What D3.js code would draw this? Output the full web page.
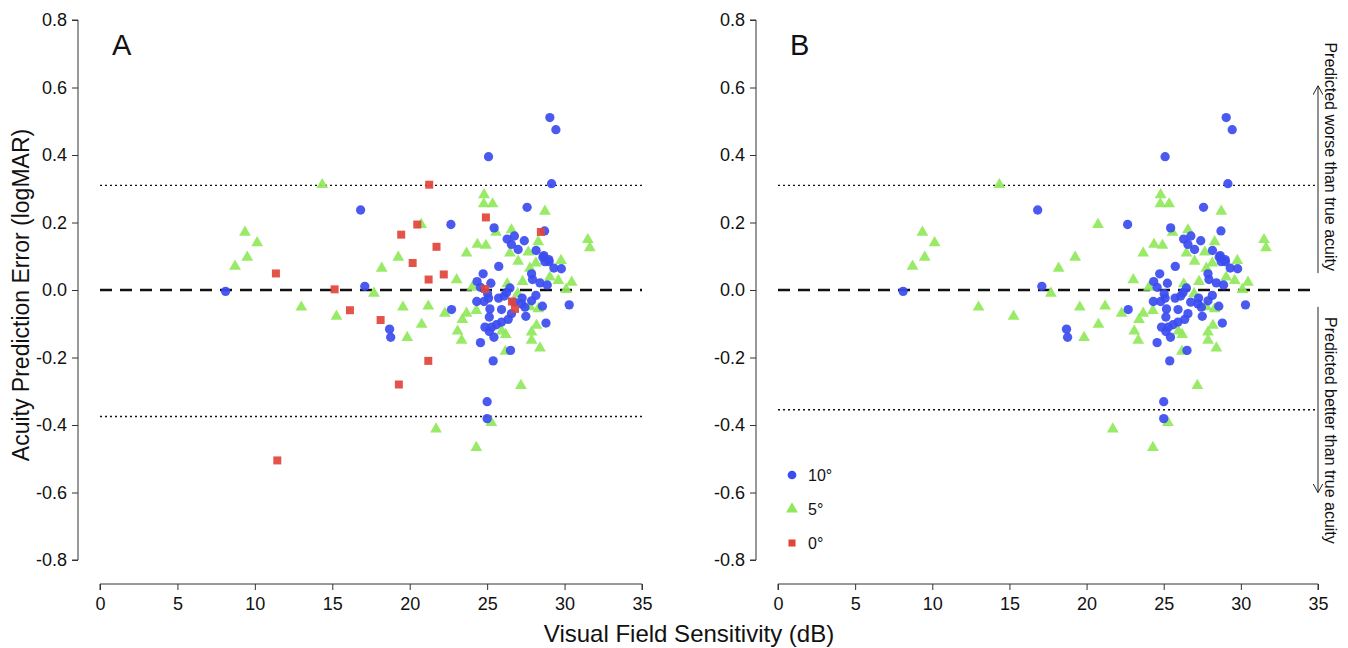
<!DOCTYPE html>
<html><head><meta charset="utf-8">
<script src="https://cdn.jsdelivr.net/npm/d3@7"></script>
<style>body{margin:0;background:#fff;}svg{display:block;font-family:"Liberation Sans",Arial,sans-serif;}</style>
</head><body>
<svg id="c" width="1348" height="648"></svg>
<script>
// Data (visual field sensitivity dB, prediction error logMAR)
const blue10 = [
[8.11,-0.004],[16.83,0.237],[17.1,0.011],[18.7,-0.116],[18.77,-0.14],
[29.05,0.511],[29.44,0.475],[25.09,0.395],[29.16,0.315],[27.58,0.245],[22.66,0.194],
[25.45,0.184],[26.76,0.16],[26.29,0.151],[28.71,0.175],[27.4,0.146],[26.57,0.135],
[27.0,0.12],[28.16,0.117],[28.66,0.102],[28.98,0.09],[28.6,0.097],[28.73,0.084],
[29.0,0.084],[29.31,0.065],[29.79,0.063],[25.75,0.07],[24.74,0.048],[24.35,0.025],
[24.57,0.008],[27.87,0.048],[27.93,0.031],[28.41,0.021],[28.88,0.015],[26.47,0.006],
[26.25,-0.008],[26.1,-0.018],[25.74,-0.024],[25.03,-0.011],[25.09,-0.024],[25.24,0.02],
[24.33,-0.034],[24.8,-0.034],[27.26,-0.024],[28.15,-0.016],[27.87,-0.032],[27.22,-0.041],
[27.44,-0.051],[26.75,-0.036],[28.57,-0.048],[30.3,-0.044],[22.7,-0.058],[25.18,-0.056],
[25.93,-0.058],[26.57,-0.07],[25.14,-0.08],[27.5,-0.078],[26.36,-0.087],[25.93,-0.095],
[28.8,-0.098],[25.6,-0.103],[24.86,-0.11],[25.29,-0.11],[25.14,-0.123],[25.44,-0.14],
[24.57,-0.156],[26.51,-0.179],[25.39,-0.21],[25.0,-0.331],[25.0,-0.381]
];
const green5 = [
[8.72,0.07],[9.36,0.171],[9.51,0.097],[10.15,0.14],[13.0,-0.051],[14.35,0.312],
[15.27,-0.078],[17.69,-0.01],[18.19,0.064],[19.26,0.097],[19.56,-0.051],[19.84,-0.141],
[20.74,0.194],[20.77,-0.102],[21.2,-0.048],[21.7,-0.412],[22.27,-0.069],[23.03,0.03],
[23.09,-0.122],[23.35,-0.149],[23.4,-0.088],[23.67,0.109],[23.67,-0.069],[24.04,0.008],
[24.3,-0.061],[24.3,-0.467],[24.37,0.135],[24.78,0.255],[24.8,0.282],[24.92,0.132],
[25.27,-0.393],[25.35,0.255],[25.57,0.171],[25.95,-0.122],[26.2,-0.132],[26.18,-0.182],
[26.3,0.018],[26.47,0.109],[26.57,0.178],[26.97,-0.011],[27.0,0.085],[27.18,-0.283],
[27.29,0.025],[27.66,0.112],[27.76,0.064],[27.87,-0.125],[27.87,-0.149],[28.19,-0.105],
[28.3,0.143],[28.3,-0.056],[28.41,-0.172],[28.73,0.233],[29.05,0.038],[29.6,0.028],
[29.77,0.087],[30.1,0.001],[30.46,0.023],[31.5,0.149],[31.63,0.125],[27.76,-0.05],[28.15,0.08]
];
const red0 = [
[11.36,0.049],[11.45,-0.505],[15.15,0.002],[16.14,-0.06],[18.12,-0.089],[19.3,-0.28],
[19.45,0.164],[20.19,0.08],[20.49,0.194],[21.2,-0.21],[21.22,0.031],[21.26,0.312],
[21.73,0.128],[22.2,0.046],[24.86,0.003],[24.92,0.215],[26.6,-0.034],[26.8,-0.056],[28.47,0.172]
];
const xTicks = [0,5,10,15,20,25,30,35];
const yTicks = [-0.8,-0.6,-0.4,-0.2,0.0,0.2,0.4,0.6,0.8];
const limitsA = [0.31,-0.375];
const limitsB = [0.31,-0.355];
const legendItems = [["10°","circle"],["5°","triangle"],["0°","square"]];

const colors = {circle:"#3b4cf0", triangle:"#8fe85a", square:"#e2443a"};
const svg = d3.select("#c");
const fmt = d => d.toFixed(1);

function panel(x0, x1, yAxisX, label, limits, series, showLegend){
  const x = d3.scaleLinear().domain([0,35]).range([x0,x1]);
  const y = d3.scaleLinear().domain([-0.8,0.8]).range([560,20]);
  const g = svg.append("g");
  const ya = g.append("g").attr("transform",`translate(${yAxisX},0)`)
    .call(d3.axisLeft(y).tickValues(yTicks).tickFormat(fmt).tickSize(6).tickPadding(5));
  ya.select(".domain").attr("d",`M-6,${y(0.8)}H0V${y(-0.8)}H-6`);
  const xa = g.append("g").attr("transform",`translate(0,584)`)
    .call(d3.axisBottom(x).tickValues(xTicks).tickSize(6).tickPadding(5));
  xa.select(".domain").attr("d",`M${x(0)},6V0H${x(35)}V6`);
  [ya,xa].forEach(a=>{a.selectAll("text").attr("font-size",18).attr("fill","#111").attr("font-family","Liberation Sans, Arial, sans-serif");
    a.selectAll("line,path").attr("stroke","#333").attr("stroke-width",1);});
  xa.selectAll("text").attr("dy","0.85em");
  g.append("line").attr("x1",x(0)).attr("x2",x(35)).attr("y1",y(0)).attr("y2",y(0))
    .attr("stroke","#111").attr("stroke-width",2.5).attr("stroke-dasharray","12,8");
  limits.forEach(v=>g.append("line").attr("x1",x(0)).attr("x2",x(35)).attr("y1",y(v)).attr("y2",y(v))
    .attr("stroke","#111").attr("stroke-width",1.4).attr("stroke-dasharray","2,3"));
  series.forEach(([data,shape])=>{
    const sym = shape==="circle"?d3.symbolCircle:shape==="triangle"?d3.symbolTriangle:d3.symbolSquare;
    const size = shape==="circle"?68:shape==="triangle"?60:64;
    g.append("g").selectAll("path").data(data).join("path")
      .attr("d",d3.symbol(sym,size))
      .attr("transform",d=>`translate(${x(d[0])},${y(d[1])})`)
      .attr("fill",colors[shape]).attr("opacity",0.92);
  });
  g.append("text").attr("x",x0+12).attr("y",55).attr("font-size",29).attr("fill","#111").text(label);
  if(showLegend){
    legendItems.forEach(([t,shape],i)=>{
      const sym = shape==="circle"?d3.symbolCircle:shape==="triangle"?d3.symbolTriangle:d3.symbolSquare;
      const ly = 475 + i*34;
      g.append("path").attr("d",d3.symbol(sym,shape==="square"?50:60)).attr("transform",`translate(${x0+14},${ly})`).attr("fill",colors[shape]);
      g.append("text").attr("x",x0+30).attr("y",ly+6).attr("font-size",16).attr("fill","#111").text(t);
    });
  }
  return {x,y};
}

panel(100,642,78,"A",limitsA,[[green5,"triangle"],[blue10,"circle"],[red0,"square"]],false);
const pb = panel(778,1318,756,"B",limitsB,[[green5,"triangle"],[blue10,"circle"]],true);

svg.append("text").attr("transform","translate(29,295) rotate(-90)").attr("text-anchor","middle")
  .attr("font-size",23).attr("fill","#111").text("Acuity Prediction Error (logMAR)");
svg.append("text").attr("x",689).attr("y",642).attr("text-anchor","middle")
  .attr("font-size",24).attr("fill","#111").text("Visual Field Sensitivity (dB)");

const defs = svg.append("defs");
defs.append("marker").attr("id","arr").attr("viewBox","0 0 10 10").attr("refX",9).attr("refY",5)
  .attr("markerWidth",10).attr("markerHeight",10).attr("orient","auto-start-reverse").attr("markerUnits","userSpaceOnUse")
  .append("path").attr("d","M0,0L9,5L0,10").attr("fill","none").attr("stroke","#222").attr("stroke-width",1);
const ax = 1318;
svg.append("line").attr("x1",ax).attr("x2",ax).attr("y1",pb.y(0.05)).attr("y2",pb.y(0.605))
  .attr("stroke","#222").attr("stroke-width",1).attr("marker-end","url(#arr)");
svg.append("line").attr("x1",ax).attr("x2",ax).attr("y1",pb.y(-0.05)).attr("y2",pb.y(-0.6))
  .attr("stroke","#222").attr("stroke-width",1).attr("marker-end","url(#arr)");
svg.append("text").attr("transform",`translate(1325,${pb.y(0.395)}) rotate(90)`).attr("text-anchor","middle")
  .attr("font-size",16).attr("fill","#111").text("Predicted worse than true acuity");
svg.append("text").attr("transform",`translate(1325,${pb.y(-0.416)}) rotate(90)`).attr("text-anchor","middle")
  .attr("font-size",16).attr("fill","#111").text("Predicted better than true acuity");
</script>
</body></html>
